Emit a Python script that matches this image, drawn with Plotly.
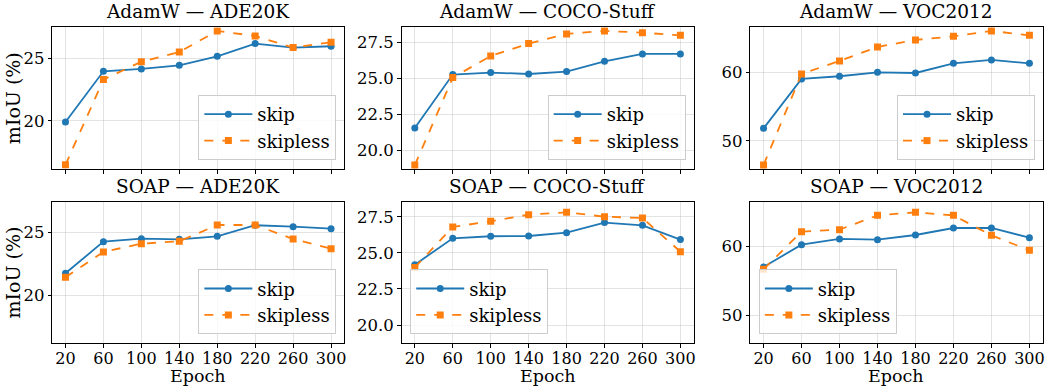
import plotly.graph_objects as go

epochs = [20, 60, 100, 140, 180, 220, 260, 300]

adamw_ade_skip = [19.92, 23.96, 24.15, 24.44, 25.16, 26.17, 25.85, 25.96]
adamw_ade_skipless = [16.5, 23.3, 24.73, 25.5, 27.18, 26.78, 25.85, 26.28]
adamw_coco_skip = [21.57, 25.28, 25.42, 25.32, 25.49, 26.2, 26.71, 26.71]
adamw_coco_skipless = [19.0, 25.07, 26.57, 27.43, 28.1, 28.31, 28.19, 28.0]
adamw_voc_skip = [51.84, 59.03, 59.42, 60.0, 59.9, 61.31, 61.8, 61.31]
adamw_voc_skipless = [46.5, 59.76, 61.65, 63.69, 64.71, 65.24, 66.02, 65.39]

soap_ade_skip = [21.76, 24.28, 24.52, 24.47, 24.71, 25.59, 25.48, 25.32]
soap_ade_skipless = [21.44, 23.46, 24.12, 24.31, 25.61, 25.61, 24.49, 23.72]
soap_coco_skip = [24.19, 26.02, 26.16, 26.18, 26.41, 27.11, 26.92, 25.93]
soap_coco_skipless = [24.0, 26.81, 27.2, 27.66, 27.82, 27.52, 27.43, 25.09]
soap_voc_skip = [57.04, 60.29, 61.12, 61.02, 61.7, 62.72, 62.72, 61.31]
soap_voc_skipless = [56.7, 62.18, 62.48, 64.56, 65.0, 64.56, 61.65, 59.47]

titles = ["AdamW — ADE20K", "AdamW — COCO-Stuff", "AdamW — VOC2012",
          "SOAP — ADE20K", "SOAP — COCO-Stuff", "SOAP — VOC2012"]
series = [
    (adamw_ade_skip, adamw_ade_skipless),
    (adamw_coco_skip, adamw_coco_skipless),
    (adamw_voc_skip, adamw_voc_skipless),
    (soap_ade_skip, soap_ade_skipless),
    (soap_coco_skip, soap_coco_skipless),
    (soap_voc_skip, soap_voc_skipless),
]

W, H = 1045, 386
FONT = "DejaVu Serif"
BLUE = "#1f77b4"
ORANGE = "#ff7f0e"

# pixel layout of axes boxes
col_px = [(52.3, 345.0), (402.3, 695.0), (751.7, 1044.7)]
row_px = [(27.3, 169.0), (201.7, 343.3)]
yranges = [[16.17, 27.47], [18.73, 28.56], [45.92, 66.55]]
ytickvals = [[20, 25], [20.0, 22.5, 25.0, 27.5], [50, 60]]
yticktext = [["20", "25"], ["20.0", "22.5", "25.0", "27.5"], ["50", "60"]]

# legend boxes (pixel anchors)
legend_pos = [
    (337, 160, "right"), (687, 160, "right"), (1037, 160, "right"),
    (337, 334.3, "right"), (411, 334.3, "left"), (760.3, 334.3, "left"),
]

fig = go.Figure()
layout = dict(
    width=W, height=H,
    margin=dict(l=0, r=0, t=0, b=0),
    paper_bgcolor="white", plot_bgcolor="white",
    font=dict(family=FONT, size=16, color="black"),
    annotations=[],
)

for i in range(6):
    r, c = divmod(i, 3)
    n = i + 1
    xa = "xaxis" if n == 1 else f"xaxis{n}"
    ya = "yaxis" if n == 1 else f"yaxis{n}"
    xr = "x" if n == 1 else f"x{n}"
    yr = "y" if n == 1 else f"y{n}"
    lg = "legend" if n == 1 else f"legend{n}"
    x0, x1 = col_px[c]
    t0, t1 = row_px[r]
    layout[xa] = dict(
        domain=[x0 / W, x1 / W], anchor=yr, range=[6, 314],
        tickvals=epochs, ticktext=[str(e) for e in epochs],
        showticklabels=(r == 1), ticklabeloverflow="allow",
        ticklabelstandoff=-3,
        ticks="outside", ticklen=3.5, tickwidth=1, tickcolor="black",
        showline=True, linecolor="black", linewidth=1, mirror=True,
        showgrid=True, gridcolor="rgba(176,176,176,0.35)", gridwidth=1,
        zeroline=False, tickfont=dict(family=FONT, size=16),
    )
    layout[ya] = dict(
        domain=[1 - t1 / H, 1 - t0 / H], anchor=xr, range=yranges[c],
        tickvals=ytickvals[c], ticktext=yticktext[c],
        ticks="outside", ticklen=3.5, tickwidth=1, tickcolor="black",
        showline=True, linecolor="black", linewidth=1, mirror=True,
        showgrid=True, gridcolor="rgba(176,176,176,0.35)", gridwidth=1,
        zeroline=False, tickfont=dict(family=FONT, size=16.5),
    )
    lx, ly, anc = legend_pos[i]
    layout[lg] = dict(
        x=lx / W, y=1 - ly / H, xanchor=anc, yanchor="bottom",
        xref="paper", yref="paper",
        bgcolor="rgba(255,255,255,0.8)", bordercolor="#cccccc", borderwidth=1,
        font=dict(family=FONT, size=18), tracegroupgap=0, itemwidth=48,
    )
    layout["annotations"].append(dict(
        text=titles[i], x=(x0 + x1) / 2 / W, y=1 - (t0 - 3) / H,
        xref="paper", yref="paper", xanchor="center", yanchor="bottom",
        showarrow=False, font=dict(family=FONT, size=18.5),
    ))
    if r == 1:
        layout["annotations"].append(dict(
            text="Epoch", x=(x0 + x1) / 2 / W, y=1 - 375.8 / H,
            xref="paper", yref="paper", xanchor="center", yanchor="middle",
            showarrow=False, font=dict(family=FONT, size=17.5), borderpad=0,
        ))
    if c == 0:
        layout["annotations"].append(dict(
            text="mIoU (%)", x=13 / W, y=1 - (t0 + t1) / 2 / H, textangle=-90,
            xref="paper", yref="paper", xanchor="center", yanchor="middle",
            showarrow=False, font=dict(family=FONT, size=19),
        ))
    s, sl = series[i]
    fig.add_trace(go.Scatter(
        x=epochs, y=s, name="skip", mode="lines+markers", xaxis=xr, yaxis=yr,
        line=dict(color=BLUE, width=1.8), marker=dict(symbol="circle", size=7, color=BLUE),
        legend=lg,
    ))
    fig.add_trace(go.Scatter(
        x=epochs, y=sl, name="skipless", mode="lines+markers", xaxis=xr, yaxis=yr,
        line=dict(color=ORANGE, width=1.8, dash="dash"),
        marker=dict(symbol="square", size=7, color=ORANGE),
        legend=lg,
    ))

fig.update_layout(**layout)
fig.write_html("out.html")
